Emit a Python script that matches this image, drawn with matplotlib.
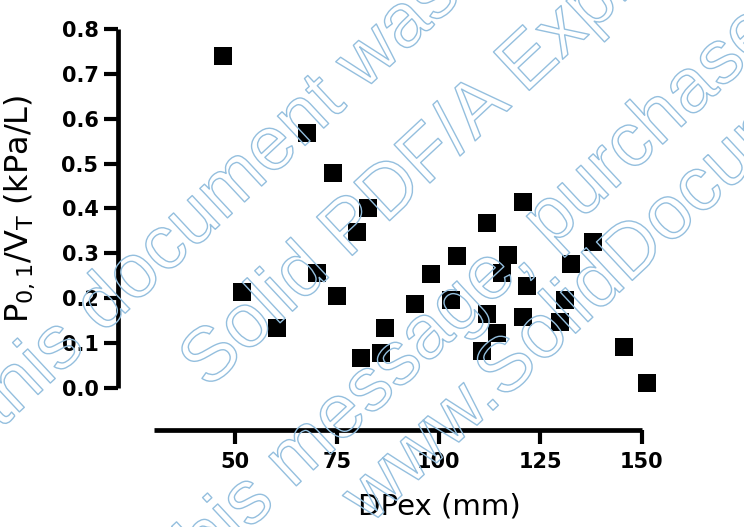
import matplotlib
matplotlib.use('Agg')
import matplotlib.pyplot as plt
import matplotlib.patheffects as pe

# DPex (mm) vs P0.1/VT (kPa/L)
dpex = [47.0, 51.7, 60.3, 67.7, 70.0, 73.9, 74.9, 79.8, 82.5, 80.8,
        86.7, 85.7, 94.1, 98.0, 103.0, 104.4, 111.8, 111.8, 110.6, 114.3,
        115.5, 117.0, 120.7, 121.7, 120.7, 129.8, 131.0, 132.5, 137.9, 145.6,
        151.2]
p01vt = [0.739, 0.214, 0.134, 0.569, 0.257, 0.480, 0.205, 0.348, 0.400, 0.067,
         0.134, 0.078, 0.188, 0.254, 0.196, 0.295, 0.368, 0.165, 0.083, 0.123,
         0.257, 0.297, 0.415, 0.228, 0.158, 0.147, 0.196, 0.277, 0.326, 0.092,
         0.011]

xticks = [50, 75, 100, 125, 150]
yticks = [0.0, 0.1, 0.2, 0.3, 0.4, 0.5, 0.6, 0.7, 0.8]

# watermark lines: text, start (image px), angle
wm_text = ['this document was created with',
           'Solid PDF/A Express',
           'this message, purchase the product',
           'www.SolidDocuments.com']
wm_pos = [(0, 430), (208, 390), (190, 585), (370, 525)]
wm_angle = 43

plt.rcParams['mathtext.default'] = 'regular'

W, H = 744, 527
fig = plt.figure(figsize=(W / 100, H / 100), dpi=100)
ax = fig.add_axes([154 / W, 139 / H, 488 / W, 359 / H])

ax.scatter(dpex, p01vt, marker='s', s=165, c='black', linewidths=0,
           clip_on=False, zorder=3)

ax.set_xlim(30, 150)
ax.set_ylim(0, 0.8)
ax.set_xticks(xticks)
ax.set_yticks(yticks)
ax.set_yticklabels(['%.1f' % v for v in yticks])

for s in ['top', 'right']:
    ax.spines[s].set_visible(False)
ax.spines['left'].set_position(('outward', 26))
ax.spines['bottom'].set_position(('outward', 30))
for s in ['left', 'bottom']:
    ax.spines[s].set_linewidth(3.4)
    ax.spines[s].set_capstyle('butt')

ax.tick_params(direction='out', length=10, width=3, labelsize=15, pad=4)
for lab in ax.get_xticklabels() + ax.get_yticklabels():
    lab.set_fontweight('bold')
ax.tick_params(axis='x', pad=6)

ax.set_xlabel('DPex (mm)', fontsize=21)
ax.xaxis.set_label_coords((439 - 154) / 488, (388 - 493) / 359)
ax.set_ylabel(r'P$_{0,1}$/V$_{T}$ (kPa/L)', fontsize=23)
ax.yaxis.set_label_coords((37 - 154) / 488, 0.5)

for t, (px, py) in zip(wm_text, wm_pos):
    fig.text(px / W, 1 - py / H, t, rotation=wm_angle, rotation_mode='anchor',
             ha='left', va='baseline', fontsize=55, family='Liberation Sans',
             color=(1, 1, 1, 0), zorder=10,
             path_effects=[pe.Stroke(linewidth=1.0, foreground='#94bfde')])

fig.savefig('out.png', dpi=100)
